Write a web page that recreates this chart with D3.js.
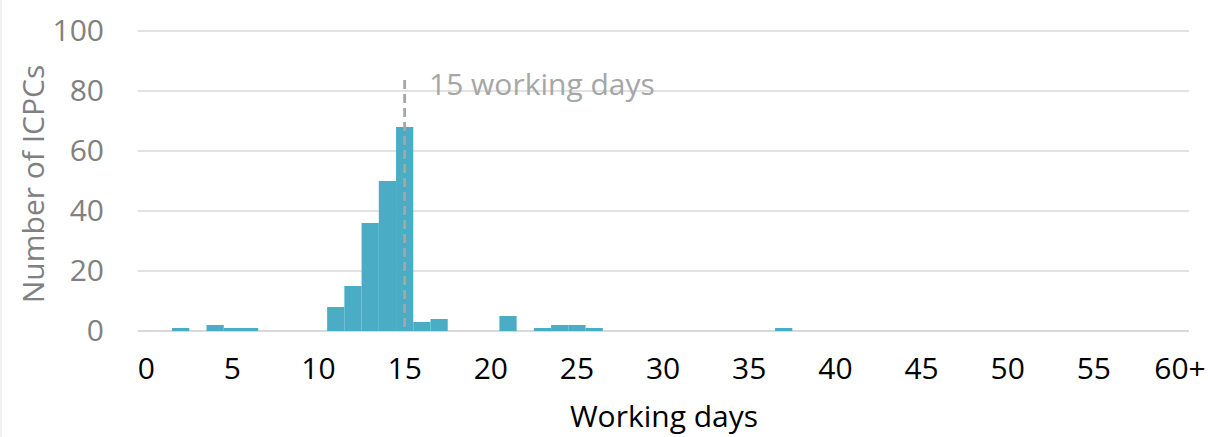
<!DOCTYPE html>
<html>
<head>
<meta charset="utf-8">
<script src="https://cdn.jsdelivr.net/npm/d3@7"></script>
<style>
  html, body { margin: 0; padding: 0; background: #fff; }
  svg { display: block; font-family: "Open Sans", "Noto Sans", sans-serif; }
</style>
</head>
<body>
<svg id="chart" width="1208" height="437"></svg>
<script>
// Categories: working days 0 .. 60+ (61 bins)
const categories = ["0","1","2","3","4","5","6","7","8","9","10","11","12","13","14","15","16","17","18","19","20",
  "21","22","23","24","25","26","27","28","29","30","31","32","33","34","35","36","37","38","39","40",
  "41","42","43","44","45","46","47","48","49","50","51","52","53","54","55","56","57","58","59","60+"];
const counts = [0,0,1,0,2,1,1,0,0,0,0,8,15,36,50,68,3,4,0,0,0,
  5,0,1,2,2,1,0,0,0,0,0,0,0,0,0,0,1,0,0,0,
  0,0,0,0,0,0,0,0,0,0,0,0,0,0,0,0,0,0,0,0];
const xTickLabels = ["0","5","10","15","20","25","30","35","40","45","50","55","60+"];
const yTicks = [0,20,40,60,80,100];
const markerCategory = "15";
const markerLabel = "15 working days";
const xTitle = "Working days";
const yTitle = "Number of ICPCs";

const svg = d3.select("#chart");
svg.append("rect").attr("x",0).attr("y",0).attr("width",2).attr("height",437).attr("fill","#f0f0f0");

const x = d3.scaleBand().domain(categories).range([137.6, 1188.6]).padding(0);
const y = d3.scaleLinear().domain([0,100]).range([331, 31]);

// gridlines
svg.append("g").selectAll("line").data(yTicks).join("line")
  .attr("x1", 137.6).attr("x2", 1189)
  .attr("y1", d => y(d)).attr("y2", d => y(d))
  .attr("stroke", "#d9d9d9").attr("stroke-width", d => d === 0 ? 2 : 1.5);

// bars
svg.append("g").selectAll("rect").data(categories.map((c,i)=>({c, v: counts[i]})).filter(d=>d.v>0)).join("rect")
  .attr("x", d => x(d.c)).attr("width", x.bandwidth())
  .attr("y", d => y(d.v)).attr("height", d => y(0) - y(d.v))
  .attr("fill", "#4bacc6");

// y axis labels
const yAxis = d3.axisLeft(y).tickValues(yTicks).tickSize(0).tickPadding(0);
const gy = svg.append("g").attr("transform", "translate(104,0)").call(yAxis);
gy.select(".domain").remove();
gy.selectAll("text").attr("fill", "#808080").style("font-size", "30px").style("font-family", "'Open Sans'");

// x axis labels
const xAxis = d3.axisBottom(x).tickValues(xTickLabels).tickSize(0).tickPadding(0);
const gx = svg.append("g").attr("transform", "translate(0,358)").call(xAxis);
gx.select(".domain").remove();
gx.selectAll("text").attr("fill", "#000").style("font-size", "30px").style("font-family", "'Open Sans'").attr("dy", "0.71em");

// marker line
const mx = x(markerCategory) + x.bandwidth()/2;
svg.append("line").attr("x1", mx).attr("x2", mx).attr("y1", 80).attr("y2", y(0))
  .attr("stroke", "#a6a6a6").attr("stroke-width", 2.8).attr("stroke-dasharray", "9,5");
svg.append("text").attr("x", 429).attr("y", 95).text(markerLabel)
  .attr("fill", "#a6a6a6").style("font-size", "30px");

// titles
svg.append("text").attr("x", 664).attr("y", 427).attr("text-anchor","middle").text(xTitle)
  .attr("fill", "#000").style("font-size", "30px");
svg.append("text").attr("transform", "translate(44,184) rotate(-90)").attr("text-anchor","middle").text(yTitle)
  .attr("fill", "#808080").style("font-size", "30px");
</script>
</body>
</html>
